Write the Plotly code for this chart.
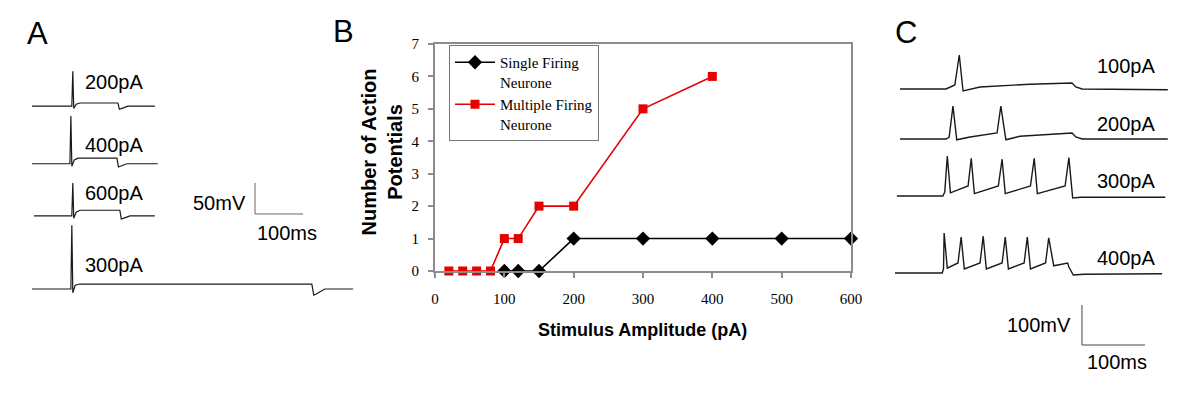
import plotly.graph_objects as go

# ---------------- Panel B data ----------------
single_x = [100, 120, 150, 200, 300, 400, 500, 600]
single_y = [0, 0, 0, 1, 1, 1, 1, 1]
multi_x = [20, 40, 60, 80, 100, 120, 150, 200, 300, 400]
multi_y = [0, 0, 0, 0, 1, 1, 2, 2, 5, 6]
b_xticks = [0, 100, 200, 300, 400, 500, 600]
b_yticks = [0, 1, 2, 3, 4, 5, 6, 7]

# ---------------- Panel A traces (ms, mV relative to baseline) ----------------
a_200_t = [0, 83, 85, 87, 92, 100, 179, 182, 186, 200, 256]
a_200_v = [0, 0, 56, -4, 3, 5, 5, -5, -4, 0, 0]
a_400_t = [0, 79, 81, 83, 88, 96, 177, 180, 184, 198, 262]
a_400_v = [0, 0, 77, -4, 6, 9, 9, -5, -4, 0, 0]
a_600_t = [4, 83, 85, 87, 92, 100, 183, 186, 190, 204, 256]
a_600_v = [0, 0, 53, -4, 6, 9, 9, -5, -4, 0, 0]
a_300_t = [0, 81, 83, 85, 90, 100, 583, 587, 592, 610, 669]
a_300_v = [0, 0, 103, -6, 6, 8, 8, -10, -8, 0, 0]
a_labels = ["200pA", "400pA", "600pA", "300pA"]

# ---------------- Panel C traces (ms, mV relative to baseline) ----------------
c_100_t = [8, 81, 95, 102, 108, 135, 214, 281, 287, 297, 433]
c_100_v = [0, 0, 10, 85, -5, 5, 12, 15, 5, 0, -2]
c_200_t = [8, 81, 86, 92, 98, 119, 162, 168, 176, 198, 281, 287, 297, 433]
c_200_v = [0, 0, 5, 82, -2, 5, 15, 82, -2, 7, 15, 5, 0, 0]
c_300_t = [3, 76, 79, 83, 88, 116, 121, 126, 164, 170, 175, 215, 221, 226,
           270, 276, 282, 295, 429]
c_300_v = [0, 0, 10, 100, 8, 25, 94, 6, 25, 92, 6, 25, 94, 6, 25, 96, -5, -3, -3]
c_400_t = [0, 75, 77, 78, 83, 100, 105, 110, 135, 140, 145, 170, 175, 180,
           205, 210, 215, 239, 244, 252, 274, 276, 283, 300, 424]
c_400_v = [0, 0, 10, 100, 12, 25, 90, 10, 25, 92, 10, 25, 90, 10, 25, 90, 10,
           25, 88, 18, 25, 15, -5, -3, -2]
c_labels = ["100pA", "200pA", "300pA", "400pA"]

# ---------------- layout constants ----------------
W, H = 1200, 400
PAGE_OFF = 8  # page body margin compensation
SANS = "Liberation Sans, Arial, sans-serif"
SERIF = "Liberation Serif, Times New Roman, serif"
TRACE_COL = "#1a1a1a"

a_offsets = [295, 202, 118, 0]
a_label_v = [334, 232, 155, 39]
a_label_t = 106
c_offsets = [460, 335, 192.5, 0]
c_label_v = [517.5, 372.5, 230, 37.5]
c_label_t = 317

fig = go.Figure()

# Panel A traces
for t, v, off in zip([a_200_t, a_400_t, a_600_t, a_300_t],
                     [a_200_v, a_400_v, a_600_v, a_300_v], a_offsets):
    fig.add_trace(go.Scatter(x=t, y=[vv + off for vv in v], mode="lines",
                             line=dict(color=TRACE_COL, width=1.2),
                             xaxis="x", yaxis="y", showlegend=False,
                             hoverinfo="skip"))

# Panel C traces
for t, v, off in zip([c_100_t, c_200_t, c_300_t, c_400_t],
                     [c_100_v, c_200_v, c_300_v, c_400_v], c_offsets):
    fig.add_trace(go.Scatter(x=t, y=[vv + off for vv in v], mode="lines",
                             line=dict(color=TRACE_COL, width=1.4),
                             xaxis="x3", yaxis="y3", showlegend=False,
                             hoverinfo="skip"))

# Panel B
fig.add_trace(go.Scatter(x=single_x, y=single_y, mode="lines+markers",
                         name="Single Firing<br>Neurone",
                         line=dict(color="black", width=1.6),
                         marker=dict(symbol="diamond", size=11, color="black"),
                         xaxis="x2", yaxis="y2", cliponaxis=False))
fig.add_trace(go.Scatter(x=multi_x, y=multi_y, mode="lines+markers",
                         name="Multiple Firing<br>Neurone",
                         line=dict(color="#e60000", width=1.6),
                         marker=dict(symbol="square", size=9, color="#e60000"),
                         xaxis="x2", yaxis="y2", cliponaxis=False))

def px(x):
    return max(0.0, (x - PAGE_OFF) / W)

def py(y):
    return min(1.0, 1 - (y - PAGE_OFF) / H)

hidden = dict(visible=False, showgrid=False, zeroline=False, fixedrange=True,
              automargin=False)

annotations = []
# panel letters
for txt, x, y in [("A", 37, 33), ("B", 343, 31), ("C", 906, 32)]:
    annotations.append(dict(text=txt, x=px(x), y=py(y), xref="paper", yref="paper",
                            showarrow=False, font=dict(family=SANS, size=31, color="black"),
                            xanchor="center", yanchor="middle"))
# A labels
for lab, v in zip(a_labels, a_label_v):
    annotations.append(dict(text=lab, x=a_label_t, y=v, xref="x", yref="y",
                            showarrow=False, xanchor="left", yanchor="middle",
                            font=dict(family=SANS, size=20, color="black")))
# C labels
for lab, v in zip(c_labels, c_label_v):
    annotations.append(dict(text=lab, x=c_label_t, y=v, xref="x3", yref="y3",
                            showarrow=False, xanchor="left", yanchor="middle",
                            font=dict(family=SANS, size=20, color="black")))

# scale bars
a_bar_t0, a_bar_v0 = 464.6, 121
c_bar_t0, c_bar_v0 = 296.8, -180
shapes = [
    dict(type="line", xref="x", yref="y", x0=a_bar_t0, x1=a_bar_t0, y0=a_bar_v0, y1=a_bar_v0 + 50,
         line=dict(color="#666", width=1)),
    dict(type="line", xref="x", yref="y", x0=a_bar_t0, x1=a_bar_t0 + 100, y0=a_bar_v0, y1=a_bar_v0,
         line=dict(color="#666", width=1)),
    dict(type="line", xref="x3", yref="y3", x0=c_bar_t0, x1=c_bar_t0, y0=c_bar_v0, y1=c_bar_v0 + 100,
         line=dict(color="#444", width=1)),
    dict(type="line", xref="x3", yref="y3", x0=c_bar_t0, x1=c_bar_t0 + 100, y0=c_bar_v0, y1=c_bar_v0,
         line=dict(color="#444", width=1)),
]
annotations += [
    dict(text="50mV", x=a_bar_t0 - 14, y=a_bar_v0 + 18, xref="x", yref="y", showarrow=False,
         xanchor="right", yanchor="middle", font=dict(family=SANS, size=20, color="black")),
    dict(text="100ms", x=a_bar_t0, y=a_bar_v0 - 31, xref="x", yref="y", showarrow=False,
         xanchor="left", yanchor="middle", font=dict(family=SANS, size=20, color="black")),
    dict(text="100mV", x=c_bar_t0 - 14, y=c_bar_v0 + 50, xref="x3", yref="y3", showarrow=False,
         xanchor="right", yanchor="middle", font=dict(family=SANS, size=20, color="black")),
    dict(text="100ms", x=c_bar_t0 + 5, y=c_bar_v0 - 42, xref="x3", yref="y3", showarrow=False,
         xanchor="left", yanchor="middle", font=dict(family=SANS, size=20, color="black")),
]
# B axis titles
annotations += [
    dict(text="<b>Number of Action<br>Potentials</b>", x=px(381.5), y=py(152), xref="paper",
         yref="paper", showarrow=False, textangle=-90, xanchor="center", yanchor="middle",
         font=dict(family=SANS, size=20, color="black")),
    dict(text="<b>Stimulus Amplitude (pA)</b>", x=px(642), y=py(330), xref="paper",
         yref="paper", showarrow=False, xanchor="center", yanchor="middle",
         font=dict(family=SANS, size=18, color="black")),
]

axis_b = dict(showgrid=False, zeroline=False, showline=True, linecolor="#8c8c8c",
              linewidth=2, mirror=True, ticks="outside", ticklen=5, tickcolor="#8c8c8c",
              tickwidth=1.5, tickfont=dict(family=SERIF, size=15, color="black"),
              fixedrange=True, automargin=False)

# hidden-axis scales: panel A 0.48 px/ms, 0.62 px/mV; panel C 0.63 px/ms, 0.40 px/mV
a_x0_page, a_t0_page = 8, 32
a_x1_page = 380
a_y0_page, a_y1_page, a_v0_page = 310, 40, 289
c_x0_page, c_x1_page, c_t0_page = 880, 1200, 895
c_y0_page, c_y1_page, c_v0_page = 380, 40, 273

fig.update_layout(
    template="none",
    width=W, height=H,
    margin=dict(l=0, r=0, t=0, b=0, pad=0, autoexpand=False),
    paper_bgcolor="white", plot_bgcolor="white",
    font=dict(family=SANS, color="black"),
    xaxis=dict(domain=[px(a_x0_page), px(a_x1_page)],
               range=[(a_x0_page - a_t0_page) / 0.48, (a_x1_page - a_t0_page) / 0.48],
               anchor="y", **hidden),
    yaxis=dict(domain=[py(a_y0_page), py(a_y1_page)],
               range=[(a_v0_page - a_y0_page) / 0.62, (a_v0_page - a_y1_page) / 0.62],
               anchor="x", **hidden),
    xaxis3=dict(domain=[px(c_x0_page), px(c_x1_page)],
                range=[(c_x0_page - c_t0_page) / 0.63, (c_x1_page - c_t0_page) / 0.63],
                anchor="y3", **hidden),
    yaxis3=dict(domain=[py(c_y0_page), py(c_y1_page)],
                range=[(c_v0_page - c_y0_page) / 0.4, (c_v0_page - c_y1_page) / 0.4],
                anchor="x3", **hidden),
    xaxis2=dict(domain=[px(435), px(851)], range=[0, 600], tickvals=b_xticks,
                anchor="y2", ticklabelstandoff=8, **axis_b),
    yaxis2=dict(domain=[py(271), py(44)], range=[0, 7], tickvals=b_yticks,
                anchor="x2", ticklabelstandoff=6, **axis_b),
    legend=dict(x=px(449), y=py(45), xanchor="left", yanchor="top",
                bgcolor="white", bordercolor="#777", borderwidth=1,
                font=dict(family=SERIF, size=15, color="black"),
                valign="top", tracegroupgap=0, itemwidth=40,
                itemclick=False, itemdoubleclick=False),
    annotations=annotations,
    shapes=shapes,
)

fig.write_html("out.html")
